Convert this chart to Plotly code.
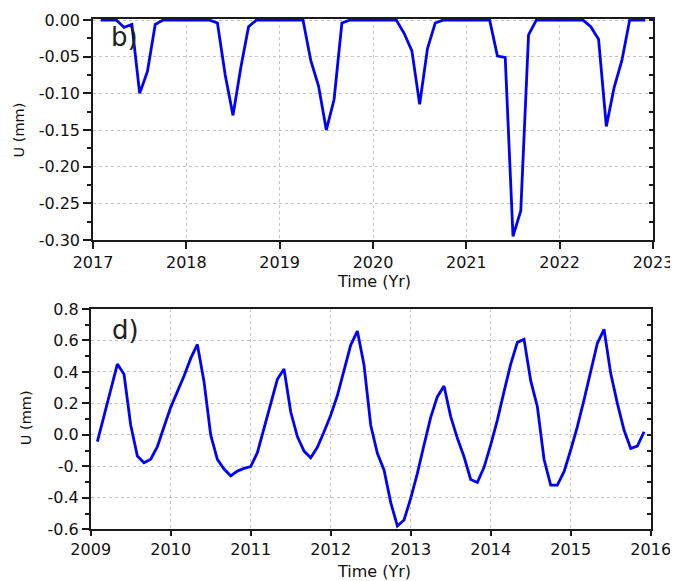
import plotly.graph_objects as go

# ---------------- data ----------------
# panel b) : 2017-2023, monthly samples (decimal years)
t_b = [2017 + m / 12 for m in range(1, 72)]
u_b = [0, 0, 0, -0.010, -0.006, -0.100, -0.070, -0.006, 0, 0, 0, 0,
       0, 0, 0, -0.004, -0.075, -0.130, -0.065, -0.009, 0, 0, 0, 0,
       0, 0, 0, -0.055, -0.090, -0.150, -0.108, -0.004, 0, 0, 0, 0,
       0, 0, 0, -0.018, -0.042, -0.115, -0.039, -0.004, 0, 0, 0, 0,
       0, 0, 0, -0.049, -0.051, -0.295, -0.260, -0.020, 0, 0, 0, 0,
       0, 0, 0, -0.009, -0.026, -0.145, -0.092, -0.055, 0, 0, 0]

# panel d) : 2009-2016, monthly samples (decimal years)
t_d = [2009 + m / 12 for m in range(1, 84)]
u_d = [-0.043, 0.120, 0.285, 0.450, 0.385, 0.063, -0.134, -0.177, -0.155, -0.075, 0.052, 0.175,
       0.275, 0.374, 0.486, 0.575, 0.338, 0.000, -0.155, -0.217, -0.260, -0.230, -0.213, -0.202,
       -0.113, 0.048, 0.200, 0.353, 0.419, 0.147, -0.011, -0.103, -0.145, -0.079, 0.020, 0.125,
       0.250, 0.412, 0.571, 0.660, 0.444, 0.063, -0.117, -0.223, -0.429, -0.579, -0.541, -0.403,
       -0.245, -0.064, 0.111, 0.243, 0.311, 0.116, -0.022, -0.139, -0.283, -0.302, -0.206, -0.064,
       0.094, 0.275, 0.450, 0.588, 0.607, 0.345, 0.179, -0.155, -0.319, -0.319, -0.234, -0.096,
       0.052, 0.222, 0.412, 0.582, 0.671, 0.391, 0.200, 0.031, -0.086, -0.071, 0.020]

# tick values / labels
xb_ticks = [2017, 2018, 2019, 2020, 2021, 2022, 2023]
xb_text = ["2017", "2018", "2019", "2020", "2021", "2022", "2023"]
yb_ticks = [-0.30, -0.25, -0.20, -0.15, -0.10, -0.05, 0.00]
yb_text = ["-0.30", "-0.25", "-0.20", "-0.15", "-0.10", "-0.05", "0.00"]
yb_minor = [-0.275, -0.225, -0.175, -0.125, -0.075, -0.025]
yb_all = [-0.30, -0.275, -0.25, -0.225, -0.20, -0.175, -0.15, -0.125, -0.10, -0.075, -0.05, -0.025, 0.0]

xd_ticks = [2009, 2010, 2011, 2012, 2013, 2014, 2015, 2016]
xd_text = ["2009", "2010", "2011", "2012", "2013", "2014", "2015", "2016"]
yd_ticks = [-0.6, -0.4, -0.2, 0.0, 0.2, 0.4, 0.6, 0.8]
yd_text = ["-0.6", "-0.4", "-0.", "0.0", "0.2", "0.4", "0.6", "0.8"]
yd_minor = [-0.5, -0.3, -0.1, 0.1, 0.3, 0.5, 0.7]
yd_all = [-0.6, -0.5, -0.4, -0.3, -0.2, -0.1, 0.0, 0.1, 0.2, 0.3, 0.4, 0.5, 0.6, 0.7, 0.8]

# ---------------- layout helpers ----------------
OFF = 8                       # page body margin of the browser
W, H = 678 - OFF, 581 - OFF   # figure size so that it fits the window
FONT = "DejaVu Sans"
AX = "#1a1a1a"
GRID = "#c4c4c4"
BLUE = "#0000FF"


def px(x):
    return (x - OFF) / W


def py(y):
    return 1 - (y - OFF) / H


fig = go.Figure()
fig.add_trace(go.Scatter(x=t_b, y=u_b, mode="lines", line=dict(color=BLUE, width=2.8),
                         xaxis="x", yaxis="y", showlegend=False, hoverinfo="skip"))
fig.add_trace(go.Scatter(x=t_d, y=u_d, mode="lines", line=dict(color=BLUE, width=2.8),
                         xaxis="x2", yaxis="y2", showlegend=False, hoverinfo="skip"))
# empty traces to carry the right-hand (inside) tick axes
fig.add_trace(go.Scatter(x=[], y=[], xaxis="x", yaxis="y3", showlegend=False, hoverinfo="skip"))
fig.add_trace(go.Scatter(x=[], y=[], xaxis="x2", yaxis="y4", showlegend=False, hoverinfo="skip"))

common_x = dict(showline=True, linecolor=AX, linewidth=1.5, mirror=True, ticks="outside",
                tickcolor=AX, tickwidth=1.5, showgrid=True, gridcolor=GRID, griddash="dot",
                gridwidth=1, zeroline=False, tickmode="array", automargin=False,
                tickfont=dict(family=FONT, size=16, color="#111"))
common_y = dict(showline=True, linecolor=AX, linewidth=1.5, mirror=True, ticks="outside",
                tickcolor=AX, tickwidth=1.5, showgrid=True, gridcolor=GRID, griddash="dot",
                gridwidth=1, zeroline=False, tickmode="array", automargin=False,
                tickfont=dict(family=FONT, size=16, color="#111"))

top_dom_x = [px(93), px(653)]
top_dom_y = [py(240), py(19)]
bot_dom_x = [px(90.7), px(650.7)]
bot_dom_y = [py(529.3), py(309)]

fig.update_layout(
    width=W, height=H, autosize=False,
    margin=dict(l=0, r=0, t=0, b=0, pad=0),
    paper_bgcolor="white", plot_bgcolor="white",
    showlegend=False,
    xaxis=dict(common_x, domain=top_dom_x, anchor="y", range=[2017, 2023],
               tickvals=xb_ticks, ticktext=xb_text, ticklen=7),
    yaxis=dict(common_y, domain=top_dom_y, anchor="x", range=[-0.30, 0.0015],
               tickvals=yb_ticks, ticktext=yb_text, ticklen=8,
               minor=dict(tickmode="array", tickvals=yb_minor, ticks="outside", ticklen=4,
                          tickcolor=AX, tickwidth=1.5, showgrid=False)),
    yaxis3=dict(overlaying="y", anchor="x", side="right", range=[-0.30, 0.0015],
                tickmode="array", tickvals=yb_all, ticks="inside", ticklen=4, tickwidth=1.5,
                tickcolor=AX, showticklabels=False, showgrid=False, showline=False,
                zeroline=False, automargin=False),
    xaxis2=dict(common_x, domain=bot_dom_x, anchor="y2", range=[2009, 2016],
                tickvals=xd_ticks, ticktext=xd_text, ticklen=5),
    yaxis2=dict(common_y, domain=bot_dom_y, anchor="x2", range=[-0.6, 0.8],
                tickvals=yd_ticks, ticktext=yd_text, ticklen=7,
                minor=dict(tickmode="array", tickvals=yd_minor, ticks="outside", ticklen=4,
                           tickcolor=AX, tickwidth=1.5, showgrid=False)),
    yaxis4=dict(overlaying="y2", anchor="x2", side="right", range=[-0.6, 0.8],
                tickmode="array", tickvals=yd_all, ticks="inside", ticklen=4, tickwidth=1.5,
                tickcolor=AX, showticklabels=False, showgrid=False, showline=False,
                zeroline=False, automargin=False),
)

ann = []
# panel letters
ann.append(dict(text="b)", x=px(109), y=py(37), xref="paper", yref="paper",
                xanchor="left", yanchor="middle", showarrow=False,
                font=dict(family=FONT, size=26, color="#231F20")))
ann.append(dict(text="d)", x=px(110), y=py(330), xref="paper", yref="paper",
                xanchor="left", yanchor="middle", showarrow=False,
                font=dict(family=FONT, size=26, color="#231F20")))
# axis titles
ann.append(dict(text="U (mm)", x=px(18.5), y=py(130), xref="paper", yref="paper",
                xanchor="center", yanchor="middle", textangle=-90, showarrow=False,
                font=dict(family=FONT, size=14.5, color="#111")))
ann.append(dict(text="U (mm)", x=px(26.7), y=py(417.5), xref="paper", yref="paper",
                xanchor="center", yanchor="middle", textangle=-90, showarrow=False,
                font=dict(family=FONT, size=14.5, color="#111")))
ann.append(dict(text="Time (Yr)", x=px(374), y=py(281), xref="paper", yref="paper",
                xanchor="center", yanchor="middle", showarrow=False,
                font=dict(family=FONT, size=16, color="#111")))
ann.append(dict(text="Time (Yr)", x=px(374), y=py(571.5), xref="paper", yref="paper",
                xanchor="center", yanchor="middle", showarrow=False,
                font=dict(family=FONT, size=16, color="#111")))
fig.update_layout(annotations=ann)

fig.write_html("out.html")
